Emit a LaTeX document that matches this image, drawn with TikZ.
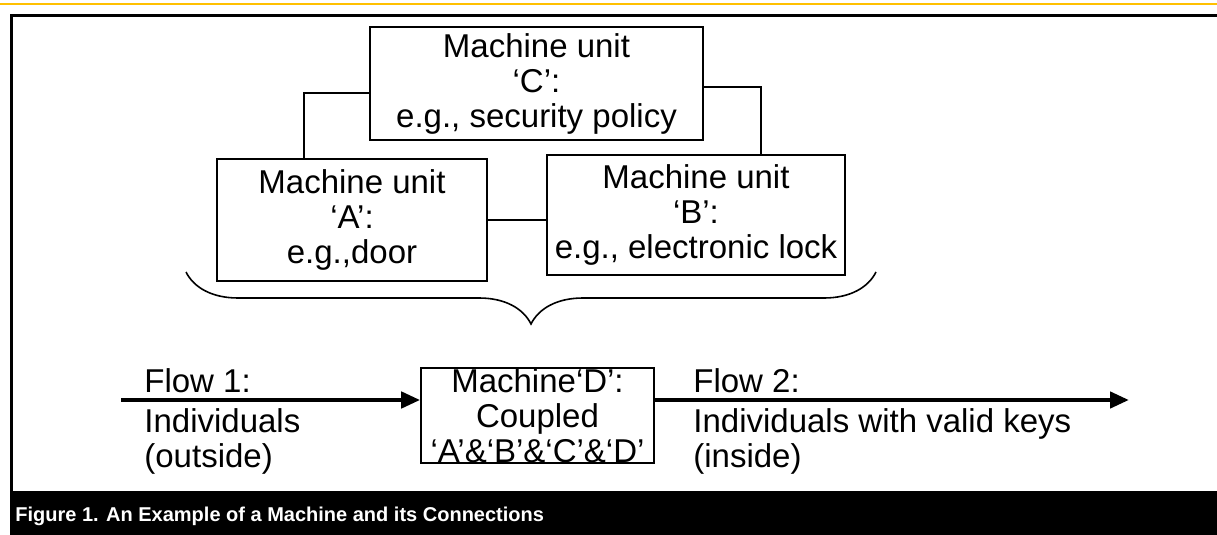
\documentclass[tikz,border=0pt]{standalone}
\usepackage{fontspec}
\setmainfont{Liberation Sans}
\usetikzlibrary{arrows.meta,decorations.pathreplacing}
\definecolor{rulegold}{HTML}{FFC000}
\tikzset{
  unit/.style={draw,line width=0.8pt,inner sep=0pt,align=center,font=\fontsize{16.5}{17.5}\selectfont},
  txt/.style={inner sep=0pt,align=left,font=\fontsize{16.5}{17.5}\selectfont},
  link/.style={line width=0.8pt},
  flow/.style={-{Triangle[length=9.5pt,width=8pt]},line width=2.2pt},
  curly/.style={decorate,decoration={brace,amplitude=26pt},line width=0.8pt},
  caption/.style={font=\bfseries\fontsize{10}{12}\selectfont,text=white,inner sep=0pt}}

\begin{document}
\begin{tikzpicture}[x=0.5pt,y=-0.5pt]
  \useasboundingbox (0,0) rectangle (1217,535);
  % page rule, frame and caption bar
  \draw[rulegold,line width=1.2pt] (0,4) -- (1217,4);
  \draw[line width=1.5pt] (1217,16) -- (11,16) -- (11,491);
  \fill (10,491) rectangle (1217,535);
  \node[caption,anchor=base west] (cap) at (15,521) {Figure 1. An Example of a Machine and its Connections};
  % the three machine units
  \node[unit,minimum width=166.5pt,minimum height=56.5pt] (C) at (536.5,83.5) {Machine unit\\‘C’:\\e.g., security policy};
  \node[unit,minimum width=135pt,minimum height=61pt] (A) at (352,220) {Machine unit\\‘A’:\\e.g.,door};
  \node[unit,minimum width=149pt,minimum height=60pt] (B) at (696,215) {Machine unit\\‘B’:\\e.g., electronic lock};
  \coordinate (ac) at (304,93);
  \coordinate (bc) at (761,87);
  \draw[link] (A.north -| ac) -- (ac) -- (C.west |- ac);
  \draw[link] (B.north -| bc) -- (bc) -- (C.east |- bc);
  \draw[link] (A.east) -- (A.east -| B.west);
  % brace gathering A, B and C
  \coordinate (brR) at (876,272);
  \coordinate (brL) at (186,272);
  \draw[curly] (brR) -- (brL);
  % coupled machine and the two flows
  \node[unit,minimum width=116.5pt,minimum height=47.5pt] (D) at (537.5,415.5) {Machine‘D’:\\Coupled\\‘A’\&‘B’\&‘C’\&‘D’};
  \coordinate (src) at (121,400);
  \coordinate (dst) at (1129,400);
  \draw[flow] (src) -- (src -| D.west);
  \draw[flow] (D.east |- dst) -- (dst);
  \node[txt,anchor=base west] (f1head) at (144,392) {Flow 1:};
  \node[txt,anchor=north west] (f1body) at (144,408) {Individuals\\(outside)};
  \node[txt,anchor=base west] (f2head) at (693,392) {Flow 2:};
  \node[txt,anchor=north west] (f2body) at (693,408) {Individuals with valid keys\\(inside)};
\end{tikzpicture}
\end{document}
